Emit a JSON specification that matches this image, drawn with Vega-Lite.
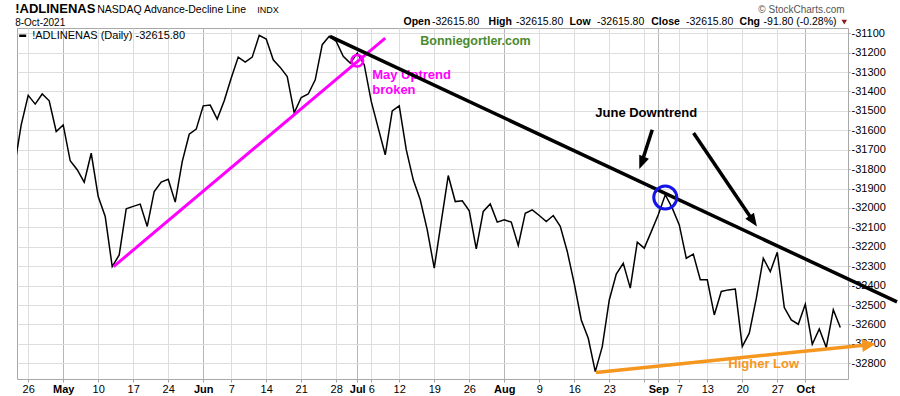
{
  "$schema": "https://vega.github.io/schema/vega-lite/v6.json",
  "width": 831,
  "height": 351,
  "autosize": {"type": "none"},
  "padding": {"left": 17, "top": 28, "right": 52, "bottom": 17},
  "background": "white",
  "config": {"view": {"stroke": "#a8a8a8", "strokeWidth": 1}, "font": "Liberation Sans"},
  "datasets": {
    "ad": [
      {"d": "2021-04-22", "i": -2, "v": -31795}, {"d": "2021-04-23", "i": -1, "v": -31572},
      {"d": "2021-04-26", "i": 0, "v": -31420}, {"d": "2021-04-27", "i": 1, "v": -31465},
      {"d": "2021-04-28", "i": 2, "v": -31413}, {"d": "2021-04-29", "i": 3, "v": -31448},
      {"d": "2021-04-30", "i": 4, "v": -31606}, {"d": "2021-05-03", "i": 5, "v": -31572},
      {"d": "2021-05-04", "i": 6, "v": -31757}, {"d": "2021-05-05", "i": 7, "v": -31803},
      {"d": "2021-05-06", "i": 8, "v": -31867}, {"d": "2021-05-07", "i": 9, "v": -31718},
      {"d": "2021-05-10", "i": 10, "v": -31941}, {"d": "2021-05-11", "i": 11, "v": -32044},
      {"d": "2021-05-12", "i": 12, "v": -32302}, {"d": "2021-05-13", "i": 13, "v": -32242},
      {"d": "2021-05-14", "i": 14, "v": -32004}, {"d": "2021-05-17", "i": 15, "v": -31992},
      {"d": "2021-05-18", "i": 16, "v": -31980}, {"d": "2021-05-19", "i": 17, "v": -32095},
      {"d": "2021-05-20", "i": 18, "v": -31915}, {"d": "2021-05-21", "i": 19, "v": -31867},
      {"d": "2021-05-24", "i": 20, "v": -31852}, {"d": "2021-05-25", "i": 21, "v": -31970},
      {"d": "2021-05-26", "i": 22, "v": -31761}, {"d": "2021-05-27", "i": 23, "v": -31620},
      {"d": "2021-05-28", "i": 24, "v": -31594}, {"d": "2021-06-01", "i": 25, "v": -31474},
      {"d": "2021-06-02", "i": 26, "v": -31470}, {"d": "2021-06-03", "i": 27, "v": -31542},
      {"d": "2021-06-04", "i": 28, "v": -31448}, {"d": "2021-06-07", "i": 29, "v": -31331},
      {"d": "2021-06-08", "i": 30, "v": -31223}, {"d": "2021-06-09", "i": 31, "v": -31249},
      {"d": "2021-06-10", "i": 32, "v": -31223}, {"d": "2021-06-11", "i": 33, "v": -31111},
      {"d": "2021-06-14", "i": 34, "v": -31130}, {"d": "2021-06-15", "i": 35, "v": -31237},
      {"d": "2021-06-16", "i": 36, "v": -31276}, {"d": "2021-06-17", "i": 37, "v": -31323},
      {"d": "2021-06-18", "i": 38, "v": -31510}, {"d": "2021-06-21", "i": 39, "v": -31431},
      {"d": "2021-06-22", "i": 40, "v": -31413}, {"d": "2021-06-23", "i": 41, "v": -31340},
      {"d": "2021-06-24", "i": 42, "v": -31159}, {"d": "2021-06-25", "i": 43, "v": -31116},
      {"d": "2021-06-28", "i": 44, "v": -31142}, {"d": "2021-06-29", "i": 45, "v": -31219},
      {"d": "2021-06-30", "i": 46, "v": -31254}, {"d": "2021-07-01", "i": 47, "v": -31202},
      {"d": "2021-07-02", "i": 48, "v": -31262}, {"d": "2021-07-06", "i": 49, "v": -31451},
      {"d": "2021-07-07", "i": 50, "v": -31589}, {"d": "2021-07-08", "i": 51, "v": -31726},
      {"d": "2021-07-09", "i": 52, "v": -31500}, {"d": "2021-07-12", "i": 53, "v": -31474},
      {"d": "2021-07-13", "i": 54, "v": -31700}, {"d": "2021-07-14", "i": 55, "v": -31855},
      {"d": "2021-07-15", "i": 56, "v": -31958}, {"d": "2021-07-16", "i": 57, "v": -32113},
      {"d": "2021-07-19", "i": 58, "v": -32310}, {"d": "2021-07-20", "i": 59, "v": -32070},
      {"d": "2021-07-21", "i": 60, "v": -31833}, {"d": "2021-07-22", "i": 61, "v": -31967},
      {"d": "2021-07-23", "i": 62, "v": -31963}, {"d": "2021-07-26", "i": 63, "v": -32015},
      {"d": "2021-07-27", "i": 64, "v": -32211}, {"d": "2021-07-28", "i": 65, "v": -32018},
      {"d": "2021-07-29", "i": 66, "v": -31979}, {"d": "2021-07-30", "i": 67, "v": -32073},
      {"d": "2021-08-02", "i": 68, "v": -32061}, {"d": "2021-08-03", "i": 69, "v": -32073},
      {"d": "2021-08-04", "i": 70, "v": -32193}, {"d": "2021-08-05", "i": 71, "v": -32027},
      {"d": "2021-08-06", "i": 72, "v": -32010}, {"d": "2021-08-09", "i": 73, "v": -32039},
      {"d": "2021-08-10", "i": 74, "v": -32070}, {"d": "2021-08-11", "i": 75, "v": -32039},
      {"d": "2021-08-12", "i": 76, "v": -32095}, {"d": "2021-08-13", "i": 77, "v": -32224},
      {"d": "2021-08-16", "i": 78, "v": -32390}, {"d": "2021-08-17", "i": 79, "v": -32577},
      {"d": "2021-08-18", "i": 80, "v": -32671}, {"d": "2021-08-19", "i": 81, "v": -32843},
      {"d": "2021-08-20", "i": 82, "v": -32714}, {"d": "2021-08-23", "i": 83, "v": -32474},
      {"d": "2021-08-24", "i": 84, "v": -32341}, {"d": "2021-08-25", "i": 85, "v": -32285},
      {"d": "2021-08-26", "i": 86, "v": -32413}, {"d": "2021-08-27", "i": 87, "v": -32176},
      {"d": "2021-08-30", "i": 88, "v": -32207}, {"d": "2021-08-31", "i": 89, "v": -32122},
      {"d": "2021-09-01", "i": 90, "v": -32035}, {"d": "2021-09-02", "i": 91, "v": -31932},
      {"d": "2021-09-03", "i": 92, "v": -32001}, {"d": "2021-09-07", "i": 93, "v": -32087},
      {"d": "2021-09-08", "i": 94, "v": -32259}, {"d": "2021-09-09", "i": 95, "v": -32238},
      {"d": "2021-09-10", "i": 96, "v": -32370}, {"d": "2021-09-13", "i": 97, "v": -32370},
      {"d": "2021-09-14", "i": 98, "v": -32551}, {"d": "2021-09-15", "i": 99, "v": -32430},
      {"d": "2021-09-16", "i": 100, "v": -32422}, {"d": "2021-09-17", "i": 101, "v": -32418},
      {"d": "2021-09-20", "i": 102, "v": -32714}, {"d": "2021-09-21", "i": 103, "v": -32645},
      {"d": "2021-09-22", "i": 104, "v": -32466}, {"d": "2021-09-23", "i": 105, "v": -32259},
      {"d": "2021-09-24", "i": 106, "v": -32328}, {"d": "2021-09-27", "i": 107, "v": -32228},
      {"d": "2021-09-28", "i": 108, "v": -32513}, {"d": "2021-09-29", "i": 109, "v": -32577},
      {"d": "2021-09-30", "i": 110, "v": -32599}, {"d": "2021-10-01", "i": 111, "v": -32496},
      {"d": "2021-10-04", "i": 112, "v": -32702}, {"d": "2021-10-05", "i": 113, "v": -32623},
      {"d": "2021-10-06", "i": 114, "v": -32719}, {"d": "2021-10-07", "i": 115, "v": -32524},
      {"d": "2021-10-08", "i": 116, "v": -32615.8}
    ]
  },
  "encoding": {
    "x": {
      "field": "i", "type": "quantitative",
      "scale": {"domain": [-1.6, 117.1], "nice": false, "zero": false},
      "axis": {
        "title": null, "orient": "bottom",
        "values": [0, 5, 10, 15, 20, 25, 29, 34, 39, 44, 47, 49, 53, 58, 63, 68, 73, 78, 83, 88, 90, 93, 97, 102, 107, 111],
        "labelExpr": "['26','May','10','17','24','Jun','7','14','21','28','Jul','6','12','19','26','Aug','9','16','23','','Sep','7','13','20','27','Oct'][indexof([0,5,10,15,20,25,29,34,39,44,47,49,53,58,63,68,73,78,83,88,90,93,97,102,107,111], datum.value)]",
        "labelFontWeight": {"condition": {"test": "indexof([5,25,47,68,90,111], datum.value) >= 0", "value": "bold"}, "value": "normal"},
        "grid": true,
        "gridColor": {"condition": {"test": "indexof([5,25,47,68,90,111], datum.value) >= 0", "value": "#b6b6b6"}, "value": "#dddddd"},
        "gridWidth": 1,
        "domain": false, "ticks": true, "tickSize": 3, "tickColor": "#a0a0a0",
        "labelPadding": 1, "labelFontSize": 11, "labelColor": "#000000", "labelFont": "Liberation Sans",
        "labelFlush": false, "labelOverlap": false, "labelBound": false
      }
    },
    "y": {
      "field": "v", "type": "quantitative",
      "scale": {"domain": [-32881, -31073], "nice": false, "zero": false},
      "axis": {
        "title": null, "orient": "right",
        "values": [-31100, -31200, -31300, -31400, -31500, -31600, -31700, -31800, -31900, -32000, -32100, -32200, -32300, -32400, -32500, -32600, -32700, -32800],
        "labelExpr": "'' + datum.value",
        "grid": true, "gridColor": "#dddddd", "gridWidth": 1,
        "domain": false, "ticks": true, "tickSize": 2, "tickColor": "#a0a0a0",
        "labelPadding": 1, "labelFontSize": 11, "labelColor": "#000000", "labelFont": "Liberation Sans",
        "labelBaseline": "middle", "labelOverlap": false, "labelBound": false, "labelFlush": false
      }
    }
  },
  "layer": [
    {"data": {"name": "ad"}, "mark": {"type": "line", "color": "#000000", "strokeWidth": 1.5, "clip": true}},
    {
      "data": {"values": [{"i": 49.14, "v": -31334.5, "t": "May Uptrend"}, {"i": 49.14, "v": -31412, "t": "broken"}]},
      "mark": {"type": "text", "align": "left", "baseline": "alphabetic", "font": "Liberation Sans", "fontSize": 13, "fontWeight": "bold", "color": "#ff00ff"},
      "encoding": {"text": {"field": "t"}}
    },
    {
      "data": {"values": [{"i": 56.0, "v": -31163, "t": "Bonniegortler.com"}]},
      "mark": {"type": "text", "align": "left", "baseline": "alphabetic", "font": "Liberation Sans", "fontSize": 12.5, "fontWeight": "bold", "color": "#4a8a2c"},
      "encoding": {"text": {"field": "t"}}
    },
    {
      "data": {"values": [{"i": 81.0, "v": -31534, "t": "June Downtrend"}]},
      "mark": {"type": "text", "align": "left", "baseline": "alphabetic", "font": "Liberation Sans", "fontSize": 13, "fontWeight": "bold", "color": "#000000"},
      "encoding": {"text": {"field": "t"}}
    },
    {
      "data": {"values": [{"i": 100.0, "v": -32826, "t": "Higher Low"}]},
      "mark": {"type": "text", "align": "left", "baseline": "alphabetic", "font": "Liberation Sans", "fontSize": 13, "fontWeight": "bold", "color": "#f5961f"},
      "encoding": {"text": {"field": "t"}}
    },
    {
      "data": {"values": [{"i": 12.19, "v": -32302, "i2": 51.0, "v2": -31125}]},
      "mark": {"type": "rule", "color": "#ff00ff", "strokeWidth": 3},
      "encoding": {"x2": {"field": "i2"}, "y2": {"field": "v2"}}
    },
    {
      "data": {"values": [{"i": 43.1, "v": -31116, "i2": 124.1, "v2": -32484}]},
      "mark": {"type": "rule", "color": "#000000", "strokeWidth": 3.5},
      "encoding": {"x2": {"field": "i2"}, "y2": {"field": "v2"}}
    },
    {
      "data": {"values": [{"i": 81.1, "v": -32847, "i2": 120.07, "v2": -32704}]},
      "mark": {"type": "rule", "color": "#f5961f", "strokeWidth": 3.5},
      "encoding": {"x2": {"field": "i2"}, "y2": {"field": "v2"}}
    },
    {
      "data": {"values": [{"i": 120.07, "v": -32704}]},
      "mark": {"type": "point", "shape": "M1,0L-1,-1L-1,1Z", "filled": true, "size": 180, "angle": -5.8, "color": "#f5961f", "opacity": 1}
    },
    {
      "data": {"values": [{"i": 89.14, "v": -31597, "i2": 87.63, "v2": -31767.5}, {"i": 95.04, "v": -31614.4, "i2": 103.57, "v2": -32068}]},
      "mark": {"type": "rule", "color": "#000000", "strokeWidth": 3.5},
      "encoding": {"x2": {"field": "i2"}, "y2": {"field": "v2"}}
    },
    {
      "data": {"values": [{"i": 87.63, "v": -31767.5}]},
      "mark": {"type": "point", "shape": "M1,0L-1,-0.8L-1,0.8Z", "filled": true, "size": 169, "angle": 111.5, "color": "#000000", "opacity": 1}
    },
    {
      "data": {"values": [{"i": 103.57, "v": -32068}]},
      "mark": {"type": "point", "shape": "M1,0L-1,-0.8L-1,0.8Z", "filled": true, "size": 169, "angle": 55.8, "color": "#000000", "opacity": 1}
    },
    {
      "data": {"values": [{"i": 47.0, "v": -31242}]},
      "mark": {"type": "point", "shape": "circle", "filled": false, "size": 135, "stroke": "#ff00ff", "strokeWidth": 2.5, "opacity": 1}
    },
    {
      "data": {"values": [{"i": 91.0, "v": -31946}]},
      "mark": {"type": "point", "shape": "circle", "filled": false, "size": 531, "stroke": "#1414e6", "strokeWidth": 3, "opacity": 1}
    },
    {
      "data": {"values": [{"i": -1.286, "v": -31113, "i2": -0.286, "v2": -31113}]},
      "mark": {"type": "rule", "color": "#000000", "strokeWidth": 2.5},
      "encoding": {"x2": {"field": "i2"}, "y2": {"field": "v2"}}
    },
    {
      "data": {"values": [{"i": 0.571, "v": -31131, "t": "!ADLINENAS (Daily) -32615.80"}]},
      "mark": {"type": "text", "align": "left", "baseline": "alphabetic", "font": "Liberation Sans", "fontSize": 11, "color": "#000000"},
      "encoding": {"text": {"field": "t"}}
    },
    {
      "data": {"values": [{"i": -1.857, "v": -30996, "t": "!ADLINENAS"}]},
      "mark": {"type": "text", "align": "left", "baseline": "alphabetic", "font": "Liberation Sans", "fontSize": 13, "fontWeight": "bold", "color": "#000000"},
      "encoding": {"text": {"field": "t"}}
    },
    {
      "data": {"values": [{"i": 9.857, "v": -30996, "t": "NASDAQ Advance-Decline Line"}]},
      "mark": {"type": "text", "align": "left", "baseline": "alphabetic", "font": "Liberation Sans", "fontSize": 10.5, "color": "#000000"},
      "encoding": {"text": {"field": "t"}}
    },
    {
      "data": {"values": [{"i": 32.71, "v": -30996, "t": "INDX"}]},
      "mark": {"type": "text", "align": "left", "baseline": "alphabetic", "font": "Liberation Sans", "fontSize": 9, "color": "#000000"},
      "encoding": {"text": {"field": "t"}}
    },
    {
      "data": {"values": [{"i": -1.857, "v": -31061, "t": "8-Oct-2021"}]},
      "mark": {"type": "text", "align": "left", "baseline": "alphabetic", "font": "Liberation Sans", "fontSize": 10, "color": "#000000"},
      "encoding": {"text": {"field": "t"}}
    },
    {
      "data": {"values": [
        {"i": 53.61, "v": -31060, "t": "Open"}, {"i": 65.76, "v": -31060, "t": "High"},
        {"i": 77.33, "v": -31060, "t": "Low"}, {"i": 89.0, "v": -31060, "t": "Close"},
        {"i": 101.61, "v": -31060, "t": "Chg"}
      ]},
      "mark": {"type": "text", "align": "left", "baseline": "alphabetic", "font": "Liberation Sans", "fontSize": 10.5, "fontWeight": "bold", "color": "#000000"},
      "encoding": {"text": {"field": "t"}}
    },
    {
      "data": {"values": [
        {"i": 57.67, "v": -31060, "t": "-32615.80"}, {"i": 69.67, "v": -31060, "t": "-32615.80"},
        {"i": 81.24, "v": -31060, "t": "-32615.80"}, {"i": 93.96, "v": -31060, "t": "-32615.80"},
        {"i": 105.04, "v": -31060, "t": "-91.80 (-0.28%)"}
      ]},
      "mark": {"type": "text", "align": "left", "baseline": "alphabetic", "font": "Liberation Sans", "fontSize": 10.5, "color": "#000000"},
      "encoding": {"text": {"field": "t"}}
    },
    {
      "data": {"values": [{"i": 116.57, "v": -31043}]},
      "mark": {"type": "point", "shape": "triangle-down", "filled": true, "size": 30, "color": "#8b1a1a", "opacity": 1}
    },
    {
      "data": {"values": [{"i": 104.29, "v": -30996, "t": "© StockCharts.com"}]},
      "mark": {"type": "text", "align": "left", "baseline": "alphabetic", "font": "Liberation Sans", "fontSize": 10, "color": "#555555"},
      "encoding": {"text": {"field": "t"}}
    }
  ]
}
